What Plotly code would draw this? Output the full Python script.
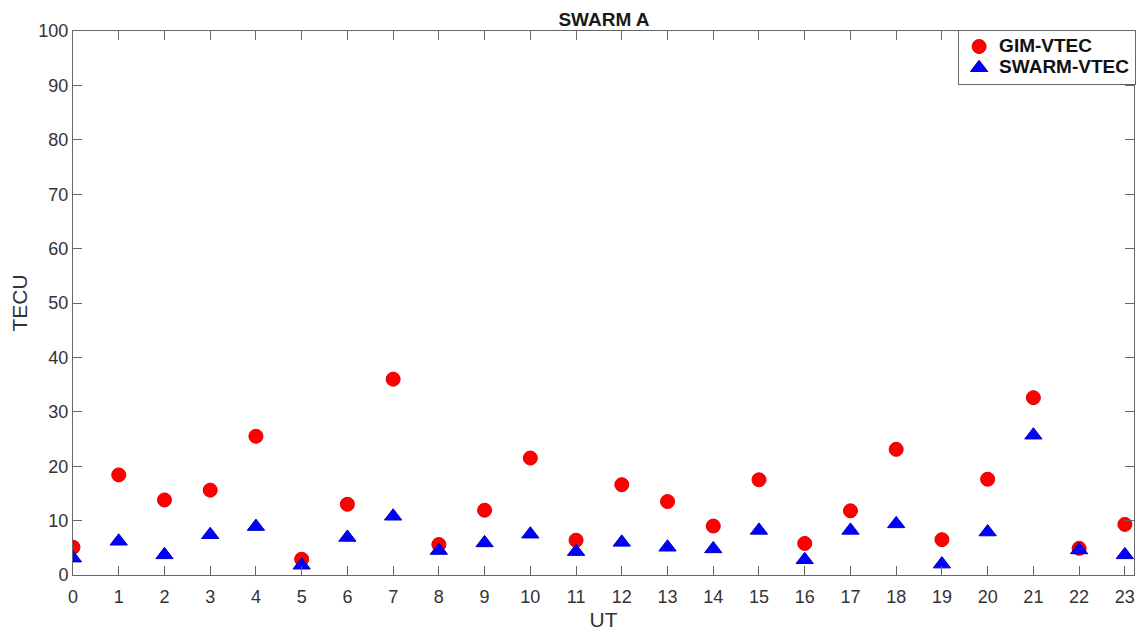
import plotly.graph_objects as go

# hours (UT)
ut = list(range(24))

# GIM and SWARM vertical TEC values
gim_vtec = [5.1, 18.4, 13.8, 15.6, 25.5, 2.9, 13.0, 36.0, 5.6, 11.9, 21.5, 6.4,
            16.6, 13.5, 9.0, 17.5, 5.8, 11.8, 23.1, 6.5, 17.6, 32.6, 4.9, 9.3]
swarm_vtec = [3.1, 6.2, 3.7, 7.4, 8.9, 1.8, 6.9, 10.8, 4.5, 5.9, 7.5, 4.3,
              6.0, 5.1, 4.8, 8.2, 2.8, 8.2, 9.4, 2.0, 7.9, 25.7, 4.6, 3.7]

# legend text is drawn bigger than the legend font so the rows stay tight
def leg(s):
    return '<span style="font-size:19px"><b>%s</b></span>' % s

fig = go.Figure()

fig.add_trace(go.Scatter(
    x=ut, y=gim_vtec, mode='markers', name=leg('GIM-VTEC'),
    marker=dict(symbol='circle', size=14, color='#ff0000',
                line=dict(color='#e00000', width=1)),
))
fig.add_trace(go.Scatter(
    x=ut, y=swarm_vtec, mode='markers', name=leg('SWARM-VTEC'),
    marker=dict(symbol='triangle-up', size=15, color='#0000ff',
                line=dict(color='#0000c0', width=1)),
))

font = 'Liberation Sans, Arial'
axis_style = dict(
    showline=True, linecolor='#666666', linewidth=1, mirror='ticks',
    ticks='inside', ticklen=9, tickcolor='#666666',
    showgrid=False, zeroline=False, automargin=False,
    tickfont=dict(family=font, size=18, color='#333333'),
)

# page body has an 8px margin, so the figure is a bit smaller than the window
fig.update_layout(
    width=1140, height=624,
    paper_bgcolor='white', plot_bgcolor='white',
    margin=dict(l=65, r=12, t=23, b=57),
    title=dict(text='<b>SWARM A</b>', xref='container', yref='container',
               x=0.5228, xanchor='center', y=0.982, yanchor='middle',
               font=dict(family=font, size=19, color='#1a1a1a')),
    xaxis=dict(range=[0, 23.2], tickmode='linear', dtick=1, tick0=0,
               ticklabelstandoff=5,
               title=dict(text='UT', standoff=6,
                          font=dict(family=font, size=21, color='#333333')),
               **axis_style),
    yaxis=dict(range=[0, 100], tickmode='linear', dtick=10, tick0=0,
               title=dict(text='TECU', standoff=8,
                          font=dict(family=font, size=21, color='#333333')),
               **axis_style),
    legend=dict(x=1.002, xanchor='right', y=1.002, yanchor='top',
                bgcolor='white', bordercolor='#666666', borderwidth=1,
                font=dict(family=font, size=14, color='#111111'),
                tracegroupgap=0, itemwidth=30),
    showlegend=True,
)

fig.write_html("out.html")
